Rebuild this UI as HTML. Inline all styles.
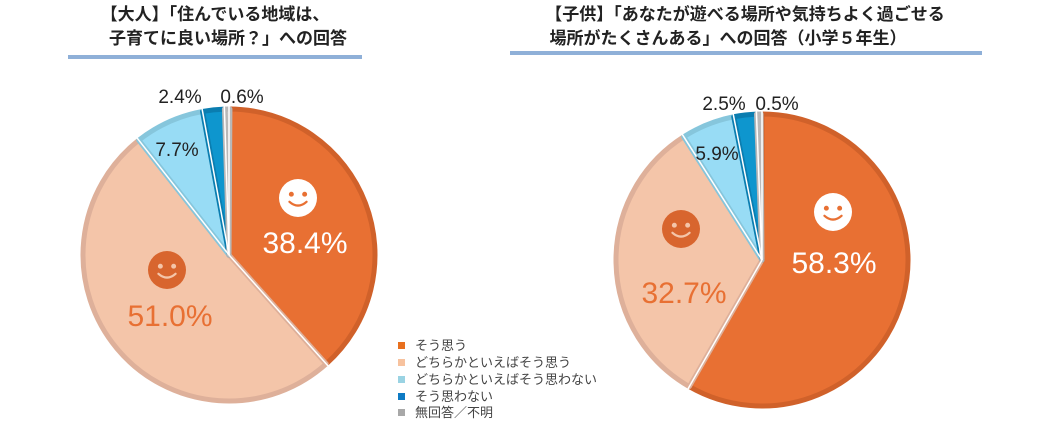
<!DOCTYPE html>
<html><head><meta charset="utf-8"><style>
body{margin:0;background:#fff;width:1046px;height:430px;overflow:hidden;font-family:"Liberation Sans","Noto Sans CJK JP",sans-serif}
</style></head><body>
<svg id="s" width="1046" height="430" xmlns="http://www.w3.org/2000/svg" font-family="Liberation Sans, Noto Sans CJK JP, sans-serif">
<text x="215" y="20" text-anchor="middle" font-size="17" font-weight="bold" fill="#222">【大人】「住んでいる地域は、</text>
<text x="228" y="44" text-anchor="middle" font-size="17" font-weight="bold" fill="#222">子育てに良い場所？」への回答</text>
<rect x="68" y="55" width="294" height="4" fill="#8fb0d8"/>
<text x="745" y="20" text-anchor="middle" font-size="17" font-weight="bold" fill="#222">【子供】「あなたが遊べる場所や気持ちよく過ごせる</text>
<text x="728" y="44" text-anchor="middle" font-size="17" font-weight="bold" fill="#222">場所がたくさんある」への回答（小学５年生）</text>
<rect x="510" y="51" width="472" height="4" fill="#8fb0d8"/>
<g id="p1"></g><g id="p2"></g>
<g font-size="19" fill="#222">
<text x="177" y="156" text-anchor="middle">7.7%</text>
<text x="180" y="103" text-anchor="middle">2.4%</text>
<text x="242" y="103" text-anchor="middle">0.6%</text>
<text x="717" y="160" text-anchor="middle">5.9%</text>
<text x="724" y="110" text-anchor="middle">2.5%</text>
<text x="777" y="110" text-anchor="middle">0.5%</text>
</g>
<g font-size="30">
<text x="305" y="253" text-anchor="middle" fill="#fff">38.4%</text>
<text x="170" y="326" text-anchor="middle" fill="#E87033">51.0%</text>
<text x="834" y="273" text-anchor="middle" fill="#fff">58.3%</text>
<text x="684" y="303" text-anchor="middle" fill="#E87033">32.7%</text>
</g>
<g id="faces"></g>
<g font-size="13" fill="#444">
<rect x="398" y="342" width="7" height="7" fill="#E8701F"/><text x="415" y="350">そう思う</text>
<rect x="398" y="359" width="7" height="7" fill="#F7C29E"/><text x="415" y="367">どちらかといえばそう思う</text>
<rect x="398" y="376" width="7" height="7" fill="#9AD3E3"/><text x="415" y="384">どちらかといえばそう思わない</text>
<rect x="398" y="393" width="7" height="7" fill="#0E7BC4"/><text x="415" y="401">そう思わない</text>
<rect x="398" y="409" width="7" height="7" fill="#A8A8A8"/><text x="415" y="417">無回答／不明</text>
</g>
</svg>
<script>
var C=[["#E87033","#D0612A"],["#F4C5A9","#DEB09A"],["#98DCF5","#86C6DC"],["#0E96CE","#0A7DB0"],["#CFCFCF","#B8B8B8"]];
function pie(id,cx,cy,r,v){var g=document.getElementById(id),a=0,h="",ln="";
v.forEach(function(p,i){var b=a+p/100*2*Math.PI;
var x1=cx+r*Math.sin(a),y1=cy-r*Math.cos(a),x2=cx+r*Math.sin(b),y2=cy-r*Math.cos(b);
var d="M"+cx+","+cy+"L"+x1+","+y1+"A"+r+","+r+" 0 "+(b-a>Math.PI?1:0)+" 1 "+x2+","+y2+"Z";
h+='<path d="'+d+'" fill="'+C[i][0]+'" stroke="'+C[i][1]+'" stroke-width="5" stroke-linejoin="round"/>';
ln+='<line x1="'+cx+'" y1="'+cy+'" x2="'+(cx+(r+3)*Math.sin(a))+'" y2="'+(cy-(r+3)*Math.cos(a))+'" stroke="#fff" stroke-width="1.5"/>';a=b;});g.innerHTML=h+ln;}
pie("p1",229,255,146,[38.4,51.0,7.7,2.4,0.6]);
pie("p2",762,260,146,[58.3,32.7,5.9,2.5,0.5]);
function face(x,y,r,f,e){return '<circle cx="'+x+'" cy="'+y+'" r="'+r+'" fill="'+f+'"/><circle cx="'+(x-r*0.35)+'" cy="'+(y-r*0.2)+'" r="'+r*0.13+'" fill="'+e+'"/><circle cx="'+(x+r*0.35)+'" cy="'+(y-r*0.2)+'" r="'+r*0.13+'" fill="'+e+'"/><path d="M'+(x-r*0.45)+','+(y+r*0.2)+'Q'+x+','+(y+r*0.6)+' '+(x+r*0.45)+','+(y+r*0.2)+'" fill="none" stroke="'+e+'" stroke-width="'+r*0.12+'" stroke-linecap="round"/>';}
document.getElementById("faces").innerHTML=face(298,198,19,"#fff","#E87033")+face(167,270,19,"#D8652E","#F4C5A9")+face(833,212,19,"#fff","#E87033")+face(681,229,19,"#D8652E","#F4C5A9");
</script>
</body></html>
